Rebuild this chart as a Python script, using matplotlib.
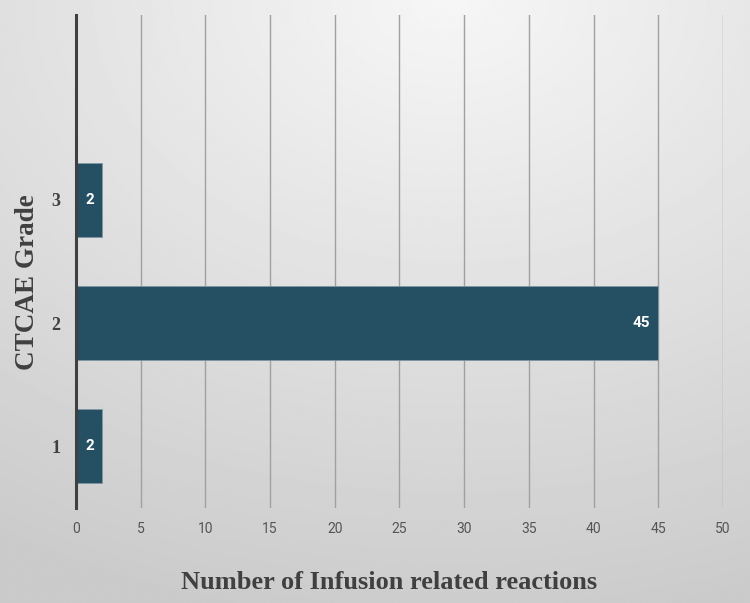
import matplotlib.pyplot as plt
import numpy as np

# --- DATA ---
grades = ['1', '2', '3']
reactions = [2, 45, 2]
x_ticks = [0, 5, 10, 15, 20, 25, 30, 35, 40, 45, 50]

bar_color = '#254f63'

fig = plt.figure(figsize=(7.5, 6.03), dpi=100)

# --- BACKGROUND GRADIENT ---
bg = fig.add_axes([0, 0, 1, 1], zorder=-10)
yy, xx = np.mgrid[0:1:300j, 0:1:400j]
dist = np.sqrt(((xx - 0.6) * 1.0) ** 2 + ((yy - 0.0) * 1.1) ** 2)
shade = 0.965 - 0.17 * np.clip(dist / 1.15, 0, 1)
bg.imshow(shade, cmap='gray', vmin=0, vmax=1, aspect='auto',
          extent=[0, 1, 1, 0], interpolation='bilinear')
bg.axis('off')

ax = fig.add_axes([0.1013, 0.1575, 0.8627, 0.8176])
ax.patch.set_alpha(0)

pos = np.arange(1, len(grades) + 1)
ax.barh(pos, reactions, height=0.6, color=bar_color,
        edgecolor='#7f97a3', linewidth=0.6, zorder=3)

for p, v in zip(pos, reactions):
    ax.text(v - 0.6, p, str(v), ha='right', va='center', color='white',
            fontsize=11, fontweight='bold', family='Roboto', zorder=4)

ax.set_xlim(0, 50)
ax.set_ylim(0.5, 4.5)
ax.set_xticks(x_ticks)
ax.set_yticks(pos)
ax.set_yticklabels(grades, family='Liberation Serif', fontsize=13,
                   fontweight='bold', color='#404040')
for lbl in ax.get_xticklabels():
    lbl.set_family('Roboto')
    lbl.set_fontsize(10)
    lbl.set_color('#555555')
ax.tick_params(axis='x', length=0, pad=10)
ax.tick_params(axis='y', length=0, pad=11)

ax.grid(axis='x', color='#a0a0a0', linewidth=1.0, zorder=1)
ax.set_axisbelow(True)
for s in ['top', 'right', 'bottom']:
    ax.spines[s].set_visible(False)
ax.spines['left'].set_color('#404040')
ax.spines['left'].set_linewidth(2.2)
ax.spines['left'].set_zorder(5)

ax.set_xlabel('Number of Infusion related reactions', family='Liberation Serif',
              fontsize=19, fontweight='bold', color='#404040')
ax.xaxis.set_label_coords(0.484, -0.128)
ax.set_ylabel('CTCAE Grade', family='Liberation Serif', fontsize=19.5,
              fontweight='bold', color='#404040')
ax.yaxis.set_label_coords(-0.0556, 0.458)

plt.savefig('out.png', dpi=100)
